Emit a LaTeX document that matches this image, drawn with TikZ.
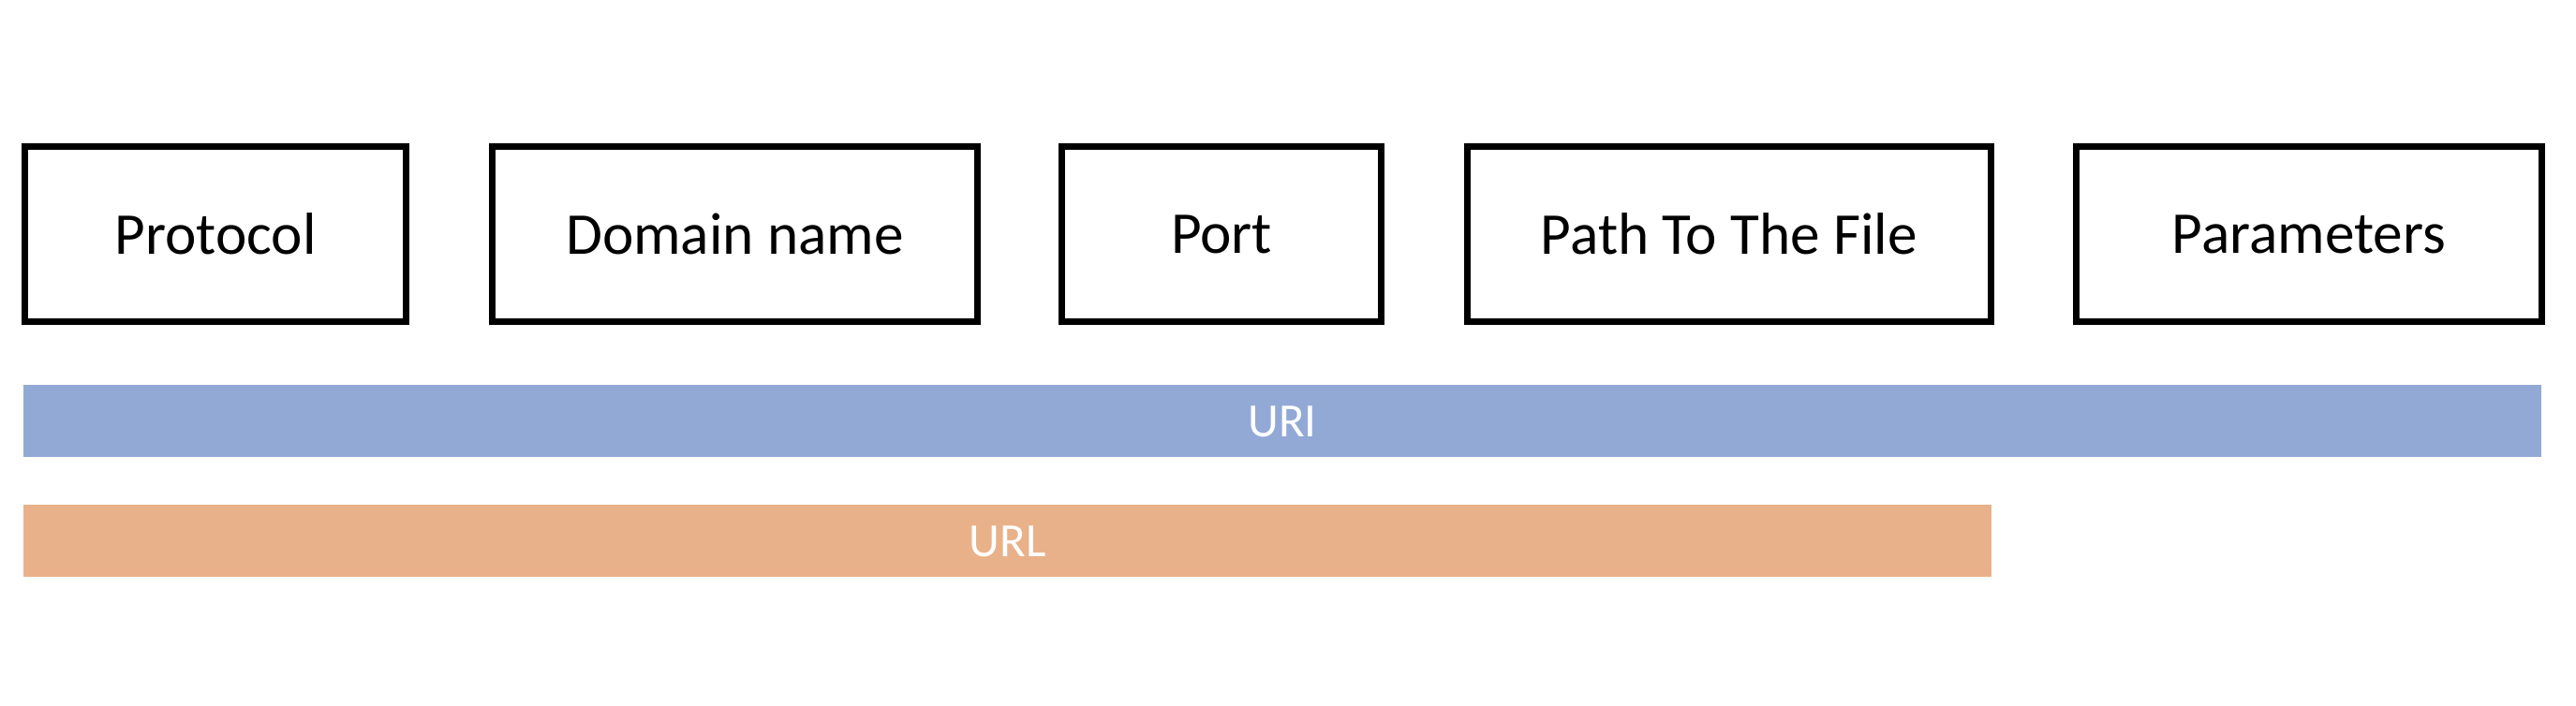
\documentclass[tikz,border=0pt]{standalone}
\usepackage{fontspec}
\setmainfont{Carlito}
\usepackage{xcolor}
\definecolor{uriblue}{RGB}{146,169,214}
\definecolor{urlorange}{RGB}{233,177,138}

\begin{document}
\begin{tikzpicture}[
  part/.style={draw, line width=2pt, minimum height=1.87cm, inner sep=0pt,
    font=\fontsize{18}{22}\selectfont},
  bar/.style={minimum height=0.77cm, inner sep=0pt, text=white,
    font=\fontsize{14.5}{17}\selectfont}]
\useasboundingbox (0,0) rectangle (27.5,7.54);
% Partes de la direccion
\node[part, minimum width=4.07cm] (protocol) at (2.30,5.04) {Protocol};
\node[part, minimum width=5.18cm] (domain) at (7.845,5.04) {Domain name};
\node[part, minimum width=3.41cm] (port) at (13.04,5.04) {Port};
\node[part, minimum width=5.59cm] (path) at (18.46,5.04) {Path To The File};
\node[part, minimum width=4.97cm] (params) at (24.65,5.04) {Parameters};
% Barras
\node[bar, fill=uriblue, minimum width=26.88cm] (uri) at (13.69,3.04) {URI};
\node[bar, fill=urlorange, minimum width=21.01cm] (url) at (10.755,1.76) {URL};
\end{tikzpicture}
\end{document}
